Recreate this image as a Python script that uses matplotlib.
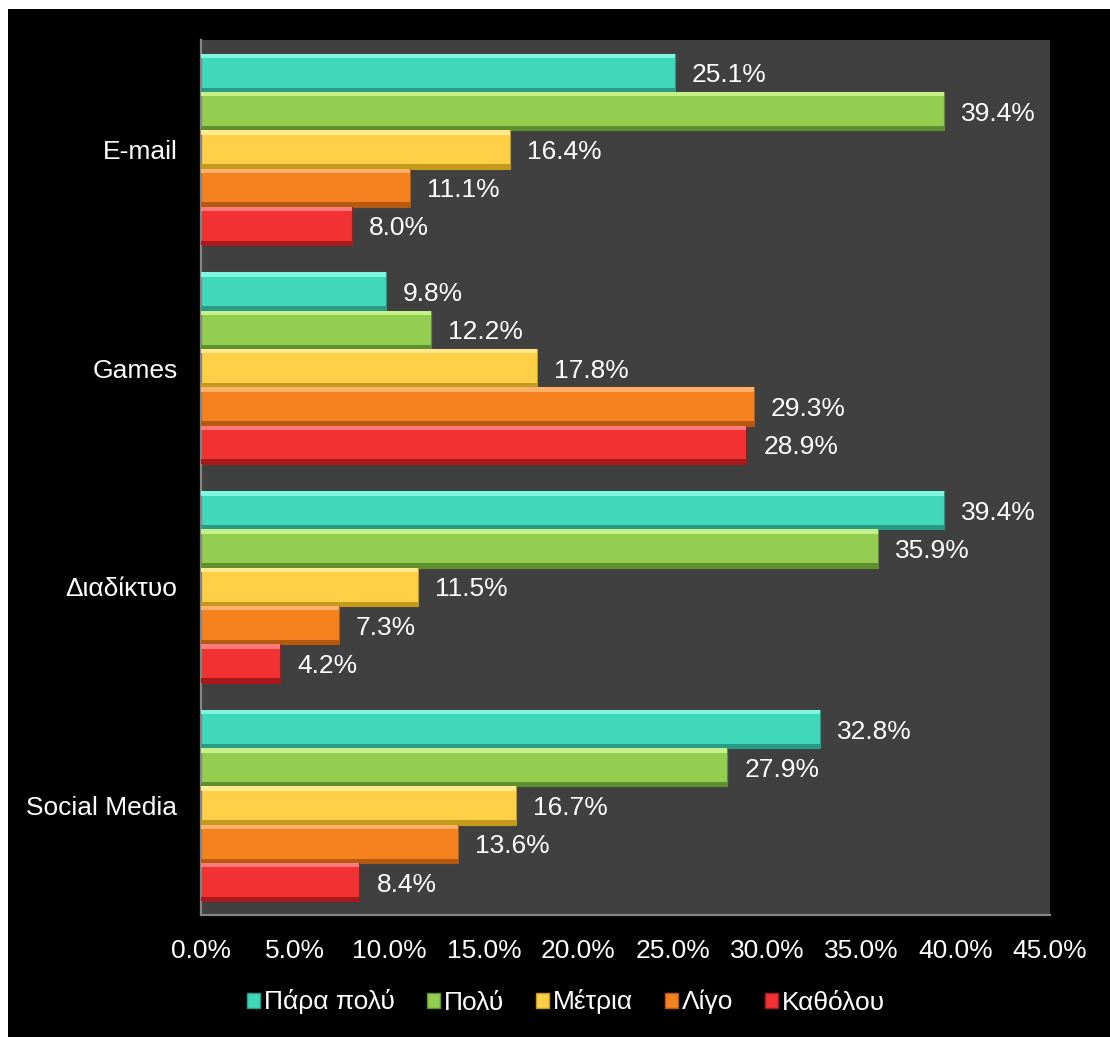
import matplotlib.pyplot as plt
from matplotlib.patches import Patch, Rectangle


CATEGORIES: list[str] = ["E-mail", "Games", "Διαδίκτυο", "Social Media"]
SERIES: list[str] = ["Πάρα πολύ", "Πολύ", "Μέτρια", "Λίγο", "Καθόλου"]

VERY_MUCH: list[float] = [25.1, 9.8, 39.4, 32.8]
MUCH: list[float] = [39.4, 12.2, 35.9, 27.9]
MODERATE: list[float] = [16.4, 17.8, 11.5, 16.7]
LITTLE: list[float] = [11.1, 29.3, 7.3, 13.6]
NONE: list[float] = [8.0, 28.9, 4.2, 8.4]

VALUES: list[list[float]] = [VERY_MUCH, MUCH, MODERATE, LITTLE, NONE]

X_TICKS: list[float] = [0, 5, 10, 15, 20, 25, 30, 35, 40, 45]

# main, highlight, shadow per series
COLORS = [
    ("#3fd8ba", "#80f5e0", "#2a9a86"),
    ("#92cd50", "#c6f08a", "#5f8f2e"),
    ("#fdd047", "#ffe98e", "#c49a1c"),
    ("#f5821f", "#ffb06a", "#b55a10"),
    ("#f23232", "#ff7a7a", "#a81a1a"),
]

BAR_H = 0.175
EDGE_H = 0.02

plt.rcParams["font.family"] = ["Liberation Sans", "DejaVu Sans"]

fig = plt.figure(figsize=(11.10, 10.37), dpi=100, facecolor="white")
# black panel, leaving a thin white strip along top and left
fig.add_artist(Rectangle((8 / 1110, 0), 1, 1 - 9 / 1037,
                         transform=fig.transFigure, facecolor="black",
                         edgecolor="none", zorder=-10))

ax = fig.add_axes([201 / 1110, 122 / 1037, 849 / 1110, 875 / 1037])
ax.set_facecolor("#404040")

for j, (vals, (main, light, dark)) in enumerate(zip(VALUES, COLORS)):
    ys = [i + (j - 2) * BAR_H for i in range(len(CATEGORIES))]
    ax.barh(ys, vals, height=BAR_H, color=main, edgecolor=dark,
            linewidth=0.8, zorder=2)
    # bevel: light strip on top, dark strip at bottom
    ax.barh([y - BAR_H / 2 + EDGE_H / 2 for y in ys], vals, height=EDGE_H,
            color=light, linewidth=0, zorder=3)
    ax.barh([y + BAR_H / 2 - EDGE_H / 2 for y in ys], vals, height=EDGE_H,
            color=dark, linewidth=0, zorder=3)
    for y, v in zip(ys, vals):
        ax.text(v + 0.9, y, f"{v:.1f}%", color="white", fontsize=19,
                va="center_baseline", ha="left", zorder=4)

ax.set_ylim(3.5, -0.5)
ax.set_xlim(0, 45)
ax.set_yticks(range(len(CATEGORIES)))
ax.set_yticklabels(CATEGORIES)
ax.set_xticks(X_TICKS)
ax.set_xticklabels([f"{t:.1f}%" for t in X_TICKS])
ax.tick_params(axis="both", length=0, colors="white", labelsize=19)
ax.tick_params(axis="x", pad=17)
ax.tick_params(axis="y", pad=17)

for side in ("top", "right"):
    ax.spines[side].set_visible(False)
for side in ("left", "bottom"):
    ax.spines[side].set_color("#858585")
    ax.spines[side].set_linewidth(1.6)

handles = [Patch(facecolor=m, edgecolor=d, linewidth=1.0)
           for m, _, d in COLORS]
fig.legend(handles, SERIES, loc="center", bbox_to_anchor=(566 / 1110, 35 / 1037),
           ncol=5, frameon=False, fontsize=19, labelcolor="white",
           handlelength=0.5, handleheight=0.5, handletextpad=0.15,
           columnspacing=1.2)

fig.savefig("out.png", dpi=100, facecolor=fig.get_facecolor())
